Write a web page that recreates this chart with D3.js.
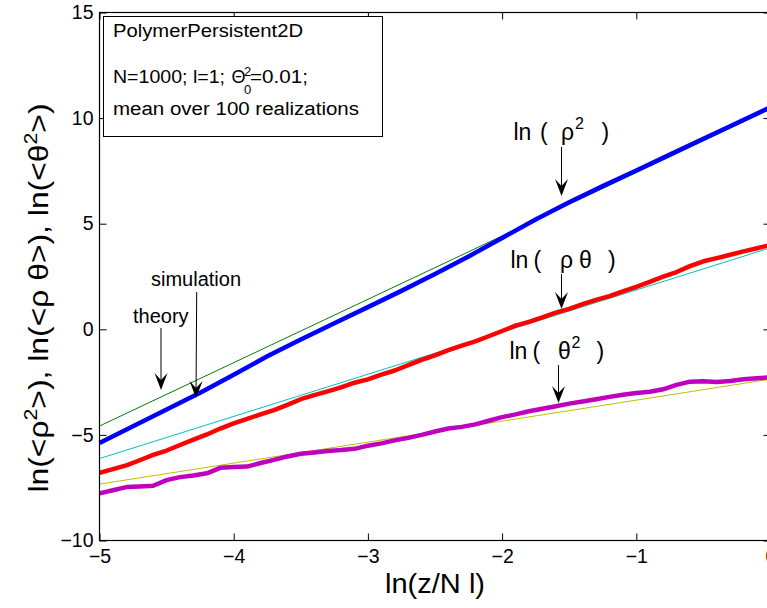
<!DOCTYPE html>
<html>
<head>
<meta charset="utf-8">
<script src="https://cdn.jsdelivr.net/npm/d3@7"></script>
<style>
  body { margin: 0; background: #fff; }
  svg { display: block; }
  text { font-family: "Liberation Sans", Arial, Helvetica, sans-serif; fill: #000; }
</style>
</head>
<body>
<svg id="chart" width="767" height="608"></svg>
<script>
// ---- data: ln(z/Nl) grid and averaged simulation curves ----
const xCoarse = [-5, -4.75, -4.5, -4.25, -4, -3.75, -3.5, -3.25, -3, -2.75, -2.5,
                 -2.25, -2, -1.75, -1.5, -1.25, -1, -0.75, -0.5, -0.25, 0];
const rhoSqSim = [-5.38, -4.59, -3.80, -3.00, -2.15, -1.28, -0.48, 0.29, 1.05, 1.82, 2.62,
                  3.45, 4.32, 5.20, 6.02, 6.78, 7.52, 8.27, 9.02, 9.77, 10.52];

const xFine = [-5, -4.9, -4.8, -4.7, -4.6, -4.5, -4.4, -4.3, -4.2, -4.1,
               -4, -3.9, -3.8, -3.7, -3.6, -3.5, -3.4, -3.3, -3.2, -3.1,
               -3, -2.9, -2.8, -2.7, -2.6, -2.5, -2.4, -2.3, -2.2, -2.1,
               -2, -1.9, -1.8, -1.7, -1.6, -1.5, -1.4, -1.3, -1.2, -1.1,
               -1, -0.9, -0.8, -0.7, -0.6, -0.5, -0.4, -0.3, -0.2, -0.1, 0];
const rhoThetaSim = [-6.80, -6.62, -6.44, -6.20, -5.95, -5.74, -5.48, -5.22, -4.98, -4.70,
                     -4.45, -4.24, -4.03, -3.83, -3.58, -3.31, -3.12, -2.94, -2.75, -2.53,
                     -2.37, -2.15, -1.95, -1.70, -1.45, -1.23, -0.99, -0.77, -0.57, -0.33,
                     -0.08, 0.17, 0.35, 0.57, 0.79, 0.97, 1.19, 1.39, 1.57, 1.79,
                     2.01, 2.25, 2.49, 2.71, 2.99, 3.22, 3.37, 3.53, 3.69, 3.84, 4.00];
const thetaSqSim = [-7.77, -7.62, -7.47, -7.44, -7.41, -7.14, -7.00, -6.92, -6.82, -6.56,
                    -6.52, -6.50, -6.33, -6.18, -6.02, -5.89, -5.83, -5.76, -5.72, -5.66,
                    -5.51, -5.40, -5.26, -5.14, -5.00, -4.84, -4.70, -4.62, -4.50, -4.33,
                    -4.16, -4.03, -3.88, -3.76, -3.64, -3.52, -3.42, -3.31, -3.20, -3.10,
                    -3.02, -2.96, -2.84, -2.63, -2.48, -2.46, -2.49, -2.45, -2.37, -2.32, -2.27];

// theory: straight lines in log-log coordinates
const xTheory = [-5, 0];
const rhoSqTheory = [-4.58, 10.42];
const rhoThetaTheory = [-6.12, 3.86];
const thetaSqTheory = [-7.33, -2.36];

const xTicks = [-5, -4, -3, -2, -1, 0];
const yTicks = [-10, -5, 0, 5, 10, 15];
const xTickLabels = ["\u22125", "\u22124", "\u22123", "\u22122", "\u22121", "0"];
const yTickLabels = ["\u221210", "\u22125", "0", "5", "10", "15"];

// ---- layout ----
const L = 99.5, R = 770.5, T = 12.5, B = 540.5;
const x = d3.scaleLinear().domain([-5, 0]).range([L, R]);
const y = d3.scaleLinear().domain([-10, 15]).range([B, T]);

const svg = d3.select("#chart");
const zip = (xs, ys) => xs.map((v, i) => [v, ys[i]]);
const line = d3.line().x(d => x(d[0])).y(d => y(d[1]));

// theory lines (thin)
const theory = [
  { ys: rhoSqTheory, color: "#008000" },
  { ys: rhoThetaTheory, color: "#00bfbf" },
  { ys: thetaSqTheory, color: "#bfbf00" }
];
svg.append("g").selectAll("path").data(theory).join("path")
  .attr("d", d => line(zip(xTheory, d.ys)))
  .attr("fill", "none").attr("stroke", d => d.color).attr("stroke-width", 1);

// simulation curves (thick)
const sims = [
  { xs: xCoarse, ys: rhoSqSim, color: "#0000ff" },
  { xs: xFine, ys: rhoThetaSim, color: "#ff0000" },
  { xs: xFine, ys: thetaSqSim, color: "#bf00bf" }
];
svg.append("g").selectAll("path").data(sims).join("path")
  .attr("d", d => line(zip(d.xs, d.ys)))
  .attr("fill", "none").attr("stroke", d => d.color).attr("stroke-width", 4.5)
  .attr("stroke-linejoin", "round").attr("stroke-linecap", "butt");

// ---- axes: box with inward ticks on all sides ----
const axes = svg.append("g").attr("class", "axes");
axes.append("g").attr("transform", `translate(0,${B})`)
  .call(d3.axisBottom(x).tickValues(xTicks).tickSizeInner(-7).tickSizeOuter(0).tickPadding(9)
    .tickFormat((d, i) => xTickLabels[i]));
axes.append("g").attr("transform", `translate(${L},0)`)
  .call(d3.axisLeft(y).tickValues(yTicks).tickSizeInner(-7).tickSizeOuter(0).tickPadding(6)
    .tickFormat((d, i) => yTickLabels[i]));
axes.append("g").attr("transform", `translate(0,${T})`)
  .call(d3.axisTop(x).tickValues(xTicks).tickSizeInner(-7).tickSizeOuter(0).tickFormat(""));
axes.append("g").attr("transform", `translate(${R},0)`)
  .call(d3.axisRight(y).tickValues(yTicks).tickSizeInner(-7).tickSizeOuter(0).tickFormat(""));
axes.selectAll(".domain").remove();
axes.selectAll(".tick line").attr("stroke", "#000").attr("stroke-width", 1);
axes.selectAll(".tick text").attr("font-size", 19.5).attr("fill", "#000")
  .style("font-family", "'Liberation Sans', Arial, sans-serif");
axes.append("rect").attr("x", L).attr("y", T).attr("width", R - L).attr("height", B - T)
  .attr("fill", "none").attr("stroke", "#000").attr("stroke-width", 1.2);

// axis titles
svg.append("text").attr("x", (L + R) / 2 - 50).attr("y", 593)
  .attr("font-size", 27).attr("textLength", 100).attr("lengthAdjust", "spacingAndGlyphs")
  .text("ln(z/N l)");

const yl = svg.append("text")
  .attr("transform", "translate(48,298) rotate(-90) scale(1.18,1)")
  .attr("text-anchor", "middle").attr("font-size", 27);
yl.append("tspan").text("ln(<\u03c1");
yl.append("tspan").attr("font-size", 18).attr("dy", -11).text("2");
yl.append("tspan").attr("dy", 11).text(">), ln(<\u03c1 \u03b8>), ln(<\u03b8");
yl.append("tspan").attr("font-size", 18).attr("dy", -11).text("2");
yl.append("tspan").attr("dy", 11).text(">)");

// ---- info box ----
const info = svg.append("g");
info.append("rect").attr("x", 103.5).attr("y", 16.5).attr("width", 279).attr("height", 120)
  .attr("fill", "#fff").attr("stroke", "#000").attr("stroke-width", 1);
info.append("text").attr("x", 113).attr("y", 37).attr("font-size", 18)
  .attr("textLength", 190).attr("lengthAdjust", "spacingAndGlyphs").text("PolymerPersistent2D");
info.append("text").attr("x", 113).attr("y", 83).attr("font-size", 18)
  .attr("textLength", 112).attr("lengthAdjust", "spacingAndGlyphs").text("N=1000; l=1;");
info.append("text").attr("x", 231.5).attr("y", 83).attr("font-size", 18).text("\u0398");
info.append("text").attr("x", 244).attr("y", 76).attr("font-size", 13).text("2");
info.append("text").attr("x", 244).attr("y", 94).attr("font-size", 13).text("0");
info.append("text").attr("x", 250).attr("y", 83).attr("font-size", 18)
  .attr("textLength", 58).attr("lengthAdjust", "spacingAndGlyphs").text("=0.01;");
info.append("text").attr("x", 113).attr("y", 115).attr("font-size", 18)
  .attr("textLength", 246).attr("lengthAdjust", "spacingAndGlyphs").text("mean over 100 realizations");

// ---- annotations ----
const notes = svg.append("g");
function arrow(x1, y1, x2, y2) {
  const dx = x2 - x1, dy = y2 - y1, len = Math.hypot(dx, dy);
  const ux = dx / len, uy = dy / len, px = -uy, py = ux;
  const hl = 17, hw = 6.5, notch = 10;
  notes.append("line").attr("x1", x1).attr("y1", y1)
    .attr("x2", x2 - ux * notch).attr("y2", y2 - uy * notch)
    .attr("stroke", "#000").attr("stroke-width", 1);
  const p = [
    [x2, y2],
    [x2 - ux * hl + px * hw, y2 - uy * hl + py * hw],
    [x2 - ux * notch, y2 - uy * notch],
    [x2 - ux * hl - px * hw, y2 - uy * hl - py * hw]
  ];
  notes.append("path").attr("d", "M" + p.map(q => q.join(",")).join("L") + "Z").attr("fill", "#000");
}
function label(pieces, baseline) {
  pieces.forEach(pc => {
    notes.append("text").attr("x", pc.x).attr("y", baseline + (pc.dy || 0))
      .attr("font-size", pc.size || 23).text(pc.t);
  });
}
notes.append("text").attr("x", 133).attr("y", 322.5).attr("font-size", 20).text("theory");
notes.append("text").attr("x", 151).attr("y", 286).attr("font-size", 20).text("simulation");
arrow(161, 328, 161, 390);
arrow(196.7, 292, 196, 398);

label([{ t: "ln", x: 513.5 }, { t: "(", x: 540 }, { t: "\u03c1", x: 561 },
       { t: "2", x: 575, dy: -11, size: 16 }, { t: ")", x: 601.5 }], 139.5);
arrow(561.5, 147, 561.5, 196);

label([{ t: "ln", x: 510.5 }, { t: "(", x: 533.5 }, { t: "\u03c1", x: 560 },
       { t: "\u03b8", x: 579 }, { t: ")", x: 608 }], 268);
arrow(561.5, 274, 561.5, 309);

label([{ t: "ln", x: 509.5 }, { t: "(", x: 532.5 }, { t: "\u03b8", x: 558 },
       { t: "2", x: 571.5, dy: -11, size: 16 }, { t: ")", x: 596.5 }], 358.5);
arrow(558.5, 365, 558.5, 403);
</script>
</body>
</html>
